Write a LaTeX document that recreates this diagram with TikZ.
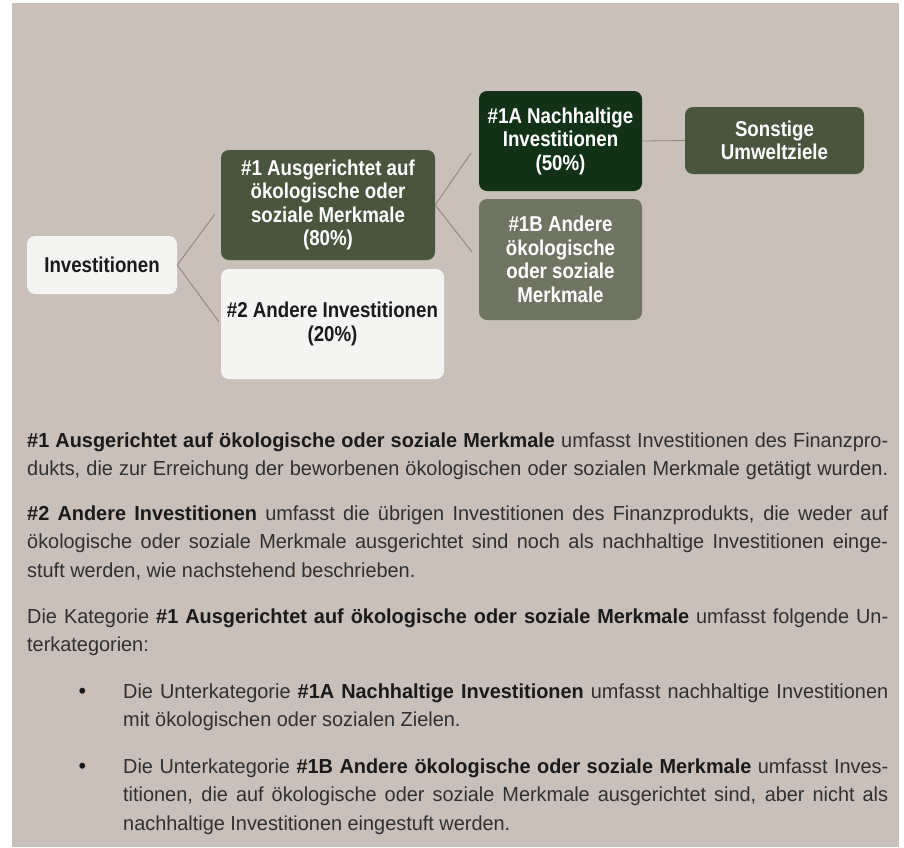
\documentclass[tikz,border=0pt]{standalone}
\usepackage{fontspec}
\setmainfont{Liberation Sans}[FakeStretch=0.87]
\newfontfamily\bodyfont{Liberation Sans}[FakeStretch=0.98]
\definecolor{panel}{HTML}{C9C0BA}
\definecolor{lightbox}{HTML}{F4F4F2}
\definecolor{olive}{HTML}{4A553E}
\definecolor{darkgreen}{HTML}{133117}
\definecolor{greygreen}{HTML}{6F7562}
\definecolor{connc}{HTML}{8E8279}
\definecolor{bodyc}{HTML}{303030}
\definecolor{boldc}{HTML}{1A1A1A}
\newcommand\jline[1]{\hbox to\hsize{#1}}
\newcommand\lline[1]{\hbox{#1}}
\newcommand\bt[1]{{\bfseries\color{boldc}#1}}
\tikzset{
  box/.style={rounded corners=8pt, align=center, inner sep=0pt,
    font=\fontsize{21.5}{23.5}\selectfont\bfseries},
  conn/.style={draw=connc, line width=0.8pt},
  para/.style={anchor=base west, inner sep=0pt, text=bodyc,
    font=\bodyfont\fontsize{20.3}{28.7}\selectfont},
  bulletmark/.style={anchor=base west, inner sep=0pt, text=boldc,
    font=\bodyfont\fontsize{22}{28.7}\selectfont}
}
\begin{document}
\begin{tikzpicture}[x=1pt,y=-1pt]
\useasboundingbox (0,0) rectangle (904,847);
\fill[white] (0,0) rectangle (904,847);
\fill[panel] (12,3) rectangle (899,847);

\node[box, fill=lightbox, text=boldc, minimum width=150, minimum height=58] (inv) at (102,265) {Investitionen};
\node[box, fill=olive, text=white, minimum width=214, minimum height=110] (n1) at (328,205) {\#1 Ausgerichtet auf\\ökologische oder\\soziale Merkmale\\(80\%)};
\node[box, fill=lightbox, text=boldc, minimum width=223, minimum height=110] (n2) at (332.5,324) {\#2 Andere Investitionen\\(20\%)};
\node[box, fill=darkgreen, text=white, minimum width=163, minimum height=100] (n1a) at (560.5,141) {\#1A Nachhaltige\\Investitionen\\(50\%)};
\node[box, fill=greygreen, text=white, minimum width=163, minimum height=121] (n1b) at (560.5,259.5) {\#1B Andere\\ökologische\\oder soziale\\Merkmale};
\node[box, fill=olive, text=white, minimum width=179, minimum height=67] (son) at (774.5,140.5) {Sonstige\\Umweltziele};

\coordinate (c1) at (215,214);
\coordinate (c2) at (219,322);
\coordinate (c3) at (471,153);
\coordinate (c4) at (472,252);
\draw[conn] (inv.east) -- (c1);
\draw[conn] (inv.east) -- (c2);
\draw[conn] (n1.east) -- (c3);
\draw[conn] (n1.east) -- (c4);
\draw[conn] (n1a.east) -- (son.west);

\node[para] (p1) at (27,447) {\vtop{\hsize=861pt
\jline{\bt{\#1 Ausgerichtet auf ökologische oder soziale Merkmale} umfasst Investitionen des Finanzpro-}
\jline{dukts, die zur Erreichung der beworbenen ökologischen oder sozialen Merkmale getätigt wurden.}}};

\node[para] (p2) at (27,520) {\vtop{\hsize=861pt
\jline{\bt{\#2 Andere Investitionen} umfasst die übrigen Investitionen des Finanzprodukts, die weder auf}
\jline{ökologische oder soziale Merkmale ausgerichtet sind noch als nachhaltige Investitionen einge-}
\lline{stuft werden, wie nachstehend beschrieben.}}};

\node[para] (p3) at (27,623) {\vtop{\hsize=861pt
\jline{Die Kategorie \bt{\#1 Ausgerichtet auf ökologische oder soziale Merkmale} umfasst folgende Un-}
\lline{terkategorien:}}};

\node[bulletmark] (d1) at (78.5,698) {•};
\node[para] (b1) at (123,698) {\vtop{\hsize=765pt
\jline{Die Unterkategorie \bt{\#1A Nachhaltige Investitionen} umfasst nachhaltige Investitionen}
\lline{mit ökologischen oder sozialen Zielen.}}};

\node[bulletmark] (d2) at (78.5,773) {•};
\node[para] (b2) at (123,773) {\vtop{\hsize=765pt
\jline{Die Unterkategorie \bt{\#1B Andere ökologische oder soziale Merkmale} umfasst Inves-}
\jline{titionen, die auf ökologische oder soziale Merkmale ausgerichtet sind, aber nicht als}
\lline{nachhaltige Investitionen eingestuft werden.}}};
\end{tikzpicture}
\end{document}
